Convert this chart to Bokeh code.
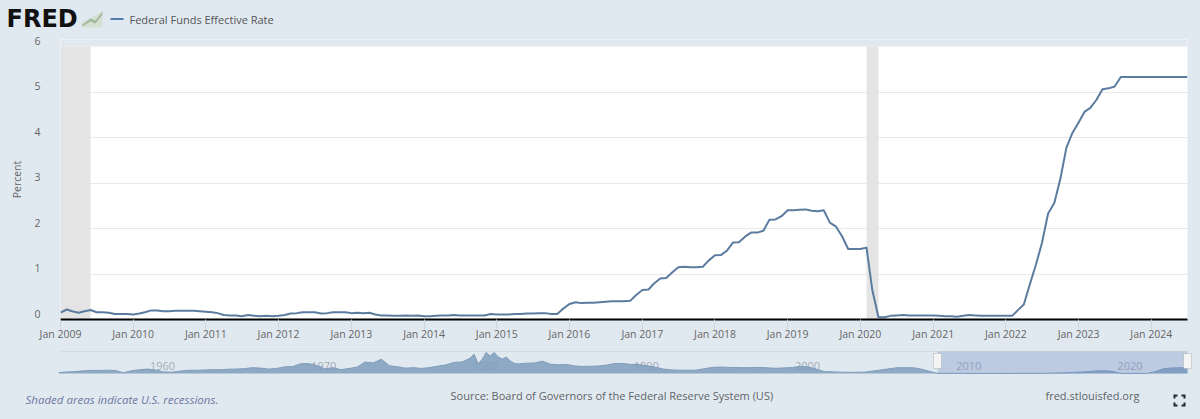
from datetime import datetime
import pandas as pd
from bokeh.core.properties import value
from bokeh.embed import file_html
from bokeh.models import (BoxAnnotation, ColumnDataSource, FixedTicker, Grid, Label, LabelSet,
                          LinearAxis, PolyAnnotation, Range1d)
from bokeh.plotting import figure
from bokeh.resources import INLINE

BG = "#e1e9f0"
series_name = "Federal Funds Effective Rate"
y_title = "Percent"
y_ticks = [0, 1, 2, 3, 4, 5, 6]
grid_ticks = [1, 2, 3, 4, 5]
tick_years = list(range(2009, 2025))
fed_funds = [
    0.15, 0.22, 0.18, 0.15, 0.18, 0.21, 0.16, 0.16, 0.15, 0.12, 0.12, 0.12,
    0.11, 0.13, 0.16, 0.20, 0.20, 0.18, 0.18, 0.19, 0.19, 0.19, 0.19, 0.18,
    0.17, 0.16, 0.14, 0.10, 0.09, 0.09, 0.07, 0.10, 0.08, 0.07, 0.08, 0.07,
    0.08, 0.10, 0.13, 0.14, 0.16, 0.16, 0.16, 0.13, 0.14, 0.16, 0.16, 0.16,
    0.14, 0.15, 0.14, 0.15, 0.11, 0.09, 0.09, 0.08, 0.08, 0.09, 0.08, 0.09,
    0.07, 0.07, 0.08, 0.09, 0.09, 0.10, 0.09, 0.09, 0.09, 0.09, 0.09, 0.12,
    0.11, 0.11, 0.11, 0.12, 0.12, 0.13, 0.13, 0.14, 0.14, 0.12, 0.12, 0.24,
    0.34, 0.38, 0.36, 0.37, 0.37, 0.38, 0.39, 0.40, 0.40, 0.40, 0.41, 0.54,
    0.65, 0.66, 0.79, 0.90, 0.91, 1.04, 1.15, 1.16, 1.15, 1.15, 1.16, 1.30,
    1.41, 1.42, 1.51, 1.69, 1.70, 1.82, 1.91, 1.91, 1.95, 2.19, 2.20, 2.27,
    2.40, 2.40, 2.41, 2.42, 2.39, 2.38, 2.40, 2.13, 2.04, 1.83, 1.55, 1.55,
    1.55, 1.58, 0.65, 0.05, 0.05, 0.08, 0.09, 0.10, 0.09, 0.09, 0.09, 0.09,
    0.09, 0.08, 0.07, 0.07, 0.06, 0.08, 0.10, 0.09, 0.08, 0.08, 0.08, 0.08,
    0.08, 0.08, 0.20, 0.33, 0.77, 1.21, 1.68, 2.33, 2.56, 3.08, 3.78, 4.10,
    4.33, 4.57, 4.65, 4.83, 5.06, 5.08, 5.12, 5.33, 5.33, 5.33, 5.33, 5.33,
    5.33, 5.33, 5.33, 5.33, 5.33, 5.33, 5.33,
]
recession_start = [datetime(2009, 1, 1), datetime(2020, 2, 1)]
recession_end = [datetime(2009, 6, 1), datetime(2020, 4, 1)]

nav_years = [1954.5, 1955, 1955.5, 1956, 1956.5, 1957, 1957.5, 1958, 1958.5, 1959, 1959.5, 1960, 1960.5,
             1961, 1961.5, 1962, 1962.5, 1963, 1963.5, 1964, 1964.5, 1965, 1965.5, 1966, 1966.5, 1967,
             1967.5, 1968, 1968.5, 1969, 1969.5, 1970, 1970.5, 1971, 1971.5, 1972, 1972.5, 1973, 1973.5,
             1974, 1974.5, 1975, 1975.5, 1976, 1976.5, 1977, 1977.5, 1978, 1978.5, 1979, 1979.5, 1980,
             1980.25, 1980.5, 1980.75, 1981, 1981.25, 1981.5, 1981.75, 1982, 1982.25, 1982.5, 1982.75,
             1983, 1983.5, 1984, 1984.5, 1985, 1985.5, 1986, 1986.5, 1987, 1987.5, 1988, 1988.5, 1989,
             1989.5, 1990, 1990.5, 1991, 1991.5, 1992, 1992.5, 1993, 1994, 1994.5, 1995, 1995.5, 1997,
             1998, 1999, 2000, 2000.5, 2001, 2001.5, 2002, 2003, 2003.5, 2004.5, 2005, 2005.5, 2006,
             2006.5, 2007, 2007.5, 2008, 2008.5, 2009, 2012, 2015.5, 2016, 2017, 2018, 2019, 2019.5,
             2020, 2020.3, 2022, 2022.5, 2023, 2023.5, 2024.5]
nav_rate = [0.8, 1.39, 1.68, 2.45, 2.75, 2.84, 3.0, 2.72, 0.68, 2.48, 3.47, 3.99, 3.23,
            1.45, 1.17, 2.15, 2.92, 2.92, 3.18, 3.48, 3.42, 3.9, 4.07, 4.42, 5.3, 4.94,
            3.98, 4.6, 6.03, 6.3, 8.9, 8.98, 7.2, 4.14, 5.3, 3.5, 4.55, 5.94, 10.4,
            9.65, 12.92, 7.13, 6.1, 4.87, 5.3, 4.61, 5.4, 6.7, 7.8, 10.07, 10.47, 13.82,
            17.6, 9.03, 12.8, 19.08, 15.9, 19.04, 15.08, 13.22, 14.94, 11.35, 9.2,
            8.68, 9.37, 9.56, 11.23, 8.35, 7.88, 8.14, 6.85, 6.43, 6.58, 6.83, 7.75, 9.12,
            9.02, 8.23, 8.15, 6.91, 5.78, 4.03, 3.25, 3.0, 3.05, 4.25, 5.5, 5.8, 5.25,
            5.5, 4.75, 5.45, 6.54, 5.98, 3.77, 1.73, 1.24, 1.01, 1.26, 2.28, 3.26, 4.29,
            5.24, 5.25, 5.26, 3.94, 2.01, 0.15, 0.08, 0.13, 0.34, 0.65, 1.41, 2.40, 2.40,
            1.55, 0.05, 0.08, 1.68, 4.33, 5.08, 5.33]
nav_label_years = [1960, 1970, 1980, 1990, 2000, 2010, 2020]
nav_sel_start = 2009.0
nav_sel_end = 2024.5

dates = pd.date_range("2009-01-01", periods=len(fed_funds), freq="MS")


def ms(d):
    return (pd.Timestamp(d) - pd.Timestamp("1970-01-01")).total_seconds() * 1000


tick_ms = [ms(datetime(y, 1, 1)) for y in tick_years]

HEADER_H, FRAME_TOP, MAIN_BOTTOM, NAV_TOP, PAGE_H = 34, 39, 346, 346, 419
PX_PER_UNIT = 45.5
LABEL_LIFT = 6 / PX_PER_UNIT
y_end = (319 - FRAME_TOP) / PX_PER_UNIT

# ---------- header: logo and legend ----------
head = figure(width=1200, height=HEADER_H, output_backend="svg", toolbar_location=None,
              x_axis_type=None, y_axis_type=None, x_range=Range1d(0, 1200), y_range=Range1d(0, HEADER_H),
              min_border=0, background_fill_color=BG, border_fill_color=BG, outline_line_color=None)
head.grid.visible = False


def hlabel(txt, x, y, font, size, color, style="normal"):
    head.add_layout(Label(x=x, y=HEADER_H - y, x_units="screen", y_units="screen", text=txt, text_font=font,
                          text_font_size=size, text_color=color, text_baseline="middle",
                          text_font_style=style))


def poly(fig, h, xs, ys, color):
    fig.add_layout(PolyAnnotation(xs=list(xs), ys=[h - v for v in ys], xs_units="screen", ys_units="screen",
                                  fill_color=color, fill_alpha=1, line_color=None))


hlabel("FRED", 6, 18.5, "DejaVu Sans", "24px", "#111111", "bold")
poly(head, HEADER_H, [81, 102, 102, 81], [22, 11, 27, 27], "#d5e0d2")
poly(head, HEADER_H, [82, 90, 95, 102, 102, 95, 90, 82], [24, 18, 20, 11, 14, 23, 21, 26], "#a3bb9d")
head.add_layout(BoxAnnotation(left=110, right=123, top=HEADER_H - 17.5, bottom=HEADER_H - 19.5,
                              left_units="screen", right_units="screen", top_units="screen",
                              bottom_units="screen", fill_color="#4f7bab", fill_alpha=1, line_color=None))
hlabel(series_name, 129, 18.5, "Open Sans", "11px", "#555555")

# ---------- main chart ----------
p = figure(width=1200, height=MAIN_BOTTOM - HEADER_H, output_backend="svg", toolbar_location=None,
           x_axis_type="datetime", y_axis_type=None,
           x_range=Range1d(dates[0], dates[-1]), y_range=Range1d(0, y_end),
           min_border_left=60, min_border_right=13, min_border_top=FRAME_TOP - HEADER_H, min_border_bottom=27,
           background_fill_color="white", border_fill_color=BG, outline_line_color=None)
p.xgrid.visible = False
p.add_layout(Grid(dimension=1, ticker=FixedTicker(ticks=grid_ticks), grid_line_color="#e9e9e9", grid_line_width=1))

ax = p.xaxis[0]
ax.ticker = FixedTicker(ticks=tick_ms)
ax.major_label_overrides = {t: f"Jan {y}" for t, y in zip(tick_ms, tick_years)}
ax.axis_line_color = "black"
ax.axis_line_width = 2
ax.major_tick_line_color = "#cdd6e0"
ax.major_tick_in = 0
ax.major_tick_out = 10
ax.minor_tick_line_color = None
ax.major_label_standoff = -3
ax.major_label_text_font = "Open Sans"
ax.major_label_text_font_size = "10.5px"
ax.major_label_text_color = "#666666"

# the reference sets value labels just above each grid line: a shifted range lifts them
p.extra_y_ranges = {"labels": Range1d(-LABEL_LIFT, y_end - LABEL_LIFT)}
ay = LinearAxis(y_range_name="labels", ticker=FixedTicker(ticks=y_ticks),
                axis_line_color=None, major_tick_line_color=None, minor_tick_line_color=None,
                major_label_text_font="Open Sans", major_label_text_font_size="10.5px",
                major_label_text_color="#666666", major_label_standoff=14,
                axis_label=y_title, axis_label_text_font="Open Sans", axis_label_text_font_size="10.5px",
                axis_label_text_font_style="normal", axis_label_text_color="#666666",
                axis_label_standoff=7)
p.add_layout(ay, "left")

LINE_COLOR = "#5b7c9f"
p.quad(left=recession_start, right=recession_end, bottom=0, top=6, fill_color="#e4e4e4", line_color=None)
p.quad(left=[dates[0]], right=[dates[-1]], bottom=[6], top=[y_end], fill_color=BG, line_color=None)
p.line(dates, fed_funds, line_color=LINE_COLOR, line_width=2, line_join="round")

# ---------- navigator and footer: a frame over the whole strip ----------
NAV_H = PAGE_H - NAV_TOP
nav_ppy = (1187 - 60) / (nav_sel_end - nav_years[0] - 0.1)
nav_x0 = nav_years[0] + 0.1 - 60 / nav_ppy
nav_x1 = nav_sel_end + 13 / nav_ppy
nav_ppu = 1.1
nav = figure(width=1200, height=NAV_H, output_backend="svg", toolbar_location=None,
             x_axis_type=None, y_axis_type=None,
             x_range=Range1d(nav_x0, nav_x1),
             y_range=Range1d(-(PAGE_H - 373) / nav_ppu, (373 - NAV_TOP) / nav_ppu),
             min_border=0, background_fill_color=BG, border_fill_color=BG, outline_line_color=None)
nav.grid.visible = False
nav.add_layout(LabelSet(source=ColumnDataSource(dict(x=nav_label_years, y=[6.8] * len(nav_label_years),
                                                     t=[str(v) for v in nav_label_years])),
                        x="x", y="y", text="t", x_offset=15, level="underlay",
                        text_font=value("Open Sans"), text_font_size="11px", text_color="#a3acb6",
                        text_align="center", text_baseline="middle"))
nav.varea(nav_years, y1=0, y2=nav_rate, fill_color="#7f9dbb", fill_alpha=0.85)
nav.line(nav_years, nav_rate, line_color="#7f9dbb", line_width=1)
nav.segment(x0=[nav_years[0] + 0.1], x1=[nav_sel_end], y0=[20], y1=[20], line_color="#d3dbe3", line_width=1)
nav.add_layout(BoxAnnotation(left=nav_sel_start, right=nav_sel_end, top=20, bottom=0, fill_color="#6685c2",
                             fill_alpha=0.3, line_color=None, level="overlay"))
for hx in (937, 1187):
    nav.add_layout(BoxAnnotation(left=hx - 4, right=hx + 4, top=PAGE_H - 353, bottom=PAGE_H - 368,
                                 left_units="screen", right_units="screen",
                                 top_units="screen", bottom_units="screen",
                                 fill_color="#f4f4f4", fill_alpha=1, line_color="#8f8f8f", line_width=1,
                                 level="overlay"))


def note(txt, x, y, size, color, style="normal"):
    nav.add_layout(Label(x=x, y=PAGE_H - y, x_units="screen", y_units="screen", text=txt,
                         text_font="Open Sans", text_font_size=size, text_color=color,
                         text_baseline="middle", text_font_style=style))


note("Shaded areas indicate U.S. recessions.", 25, 399, "11.5px", "#6f78a3", style="italic")
note("Source: Board of Governors of the Federal Reserve System (US)", 450, 395, "11px", "#5f6468")
note("fred.stlouisfed.org", 1045, 395, "11px", "#5f6468")

for sx, sy in ((1, 1), (-1, 1), (1, -1), (-1, -1)):
    cx = 1179 + sx * 6
    cy = 400 + sy * 6
    poly(nav, PAGE_H, [cx, cx - sx * 4, cx - sx * 4, cx - sx * 2, cx - sx * 2, cx],
         [cy, cy, cy - sy * 2, cy - sy * 2, cy - sy * 4, cy - sy * 4], "#1f2a33")

html = file_html([head, p, nav], INLINE)
style = ("<style>html,body{margin:0;padding:0;background:" + BG + ";overflow:hidden}"
         "body{display:flex;flex-direction:column;align-items:flex-start}</style>")
html = html.replace("<head>", "<head>" + style, 1)
open("out.html", "w").write(html)
